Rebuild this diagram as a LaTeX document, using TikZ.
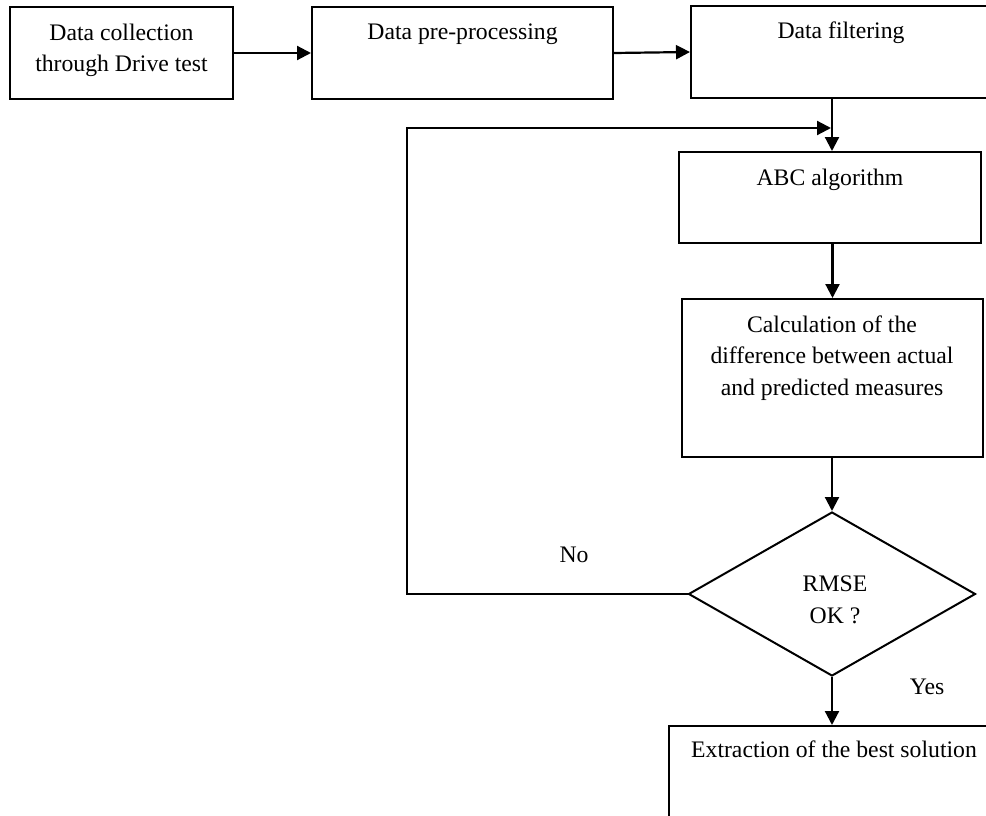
\documentclass[tikz,border=0pt]{standalone}
\usepackage{fontspec}
\setmainfont{Liberation Serif}
\usetikzlibrary{arrows.meta,shapes.geometric}
\begin{document}
\begin{tikzpicture}[x=1pt,y=-1pt,
  box/.style={draw,line width=2pt,inner sep=0pt,rectangle},
  lbl/.style={anchor=base,inner sep=0pt,align=center,font=\fontsize{23.7pt}{31.5pt}\selectfont},
  arr/.style={line width=2.2pt,-{Triangle[length=14pt,width=14pt]}},
  ln/.style={line width=2.2pt}]
\useasboundingbox (0,0) rectangle (986,816);
\clip (0,0) rectangle (986,816);
% boxes
\node[box,minimum width=223pt,minimum height=92pt] (b1) at (121.5,53) {};
\node[box,minimum width=301pt,minimum height=92pt] (b2) at (462.5,53) {};
\node[box,minimum width=300pt,minimum height=92pt] (b3) at (841,52) {};
\node[box,minimum width=302pt,minimum height=91pt] (abc) at (830,197.5) {};
\node[box,minimum width=301pt,minimum height=158pt] (calc) at (832.5,378) {};
\node[draw,line width=2pt,shape=diamond,inner sep=0pt,minimum width=287pt,minimum height=164pt] (dia) at (832,594) {};
\node[box,minimum width=330pt,minimum height=200pt] (ext) at (834,826) {};
% texts
\node[lbl] (t1) at (121.5,72) {Data collection\\through Drive test};
\node[lbl] (t2) at (462.5,40) {Data pre-processing};
\node[lbl] (t3) at (841,39) {Data filtering};
\node[lbl] (t4) at (830,185) {ABC algorithm};
\node[lbl] (t5) at (832,395) {Calculation of the\\difference between actual\\and predicted measures};
\node[lbl] (t6) at (835,623) {RMSE\\OK ?};
\node[lbl] (t7) at (834,757) {Extraction of the best solution};
\node[lbl] (tno) at (574,562) {No};
\node[lbl] (tyes) at (927,694) {Yes};
% connectors
\coordinate (vx) at (832,0);
\coordinate (lp) at (407,128);
\coordinate (jn) at (831,128);
\draw[arr] (b1.east) -- (b2.west);
\draw[arr] (b2.east) -- (b3.west);
\draw[arr] (b3.south -| vx) -- (abc.north -| vx);
\draw[arr] (abc.south -| calc.north) -- (calc.north);
\draw[arr] (calc.south -| dia.north) -- (dia.north);
\draw[arr] (dia.south) -- (ext.north -| dia.south);
\draw[arr] (dia.west) -| (lp) -- (jn);
\end{tikzpicture}
\end{document}
